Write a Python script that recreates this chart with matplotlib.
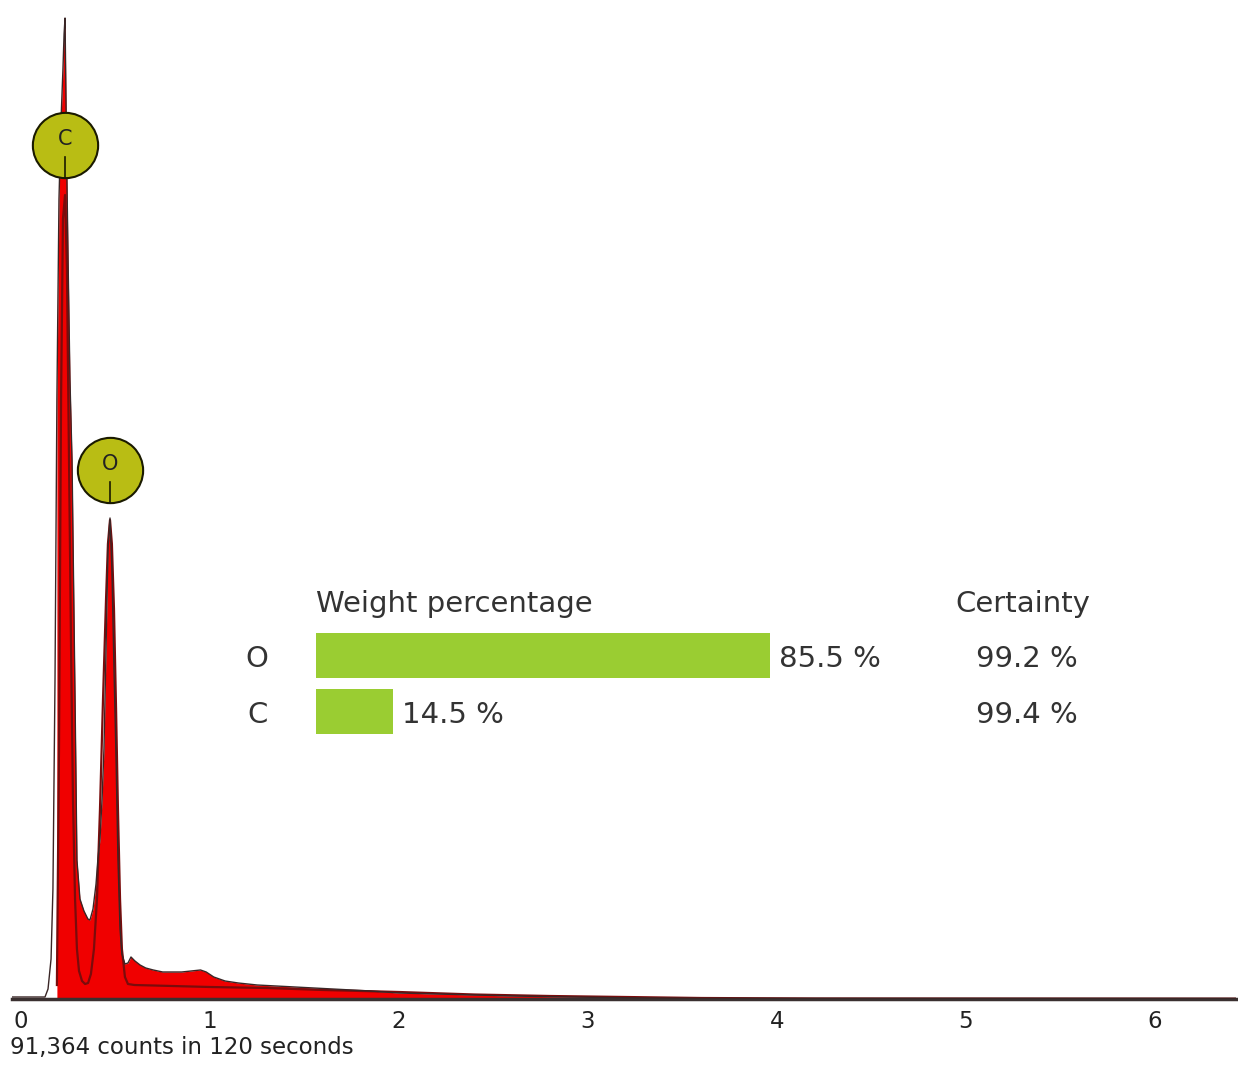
"""EDS spectrum with element markers and a weight-percentage summary."""

import matplotlib
matplotlib.use("Agg")
import matplotlib.pyplot as plt

plt.rcParams["font.family"] = ["DejaVu Sans"]

# Measured spectrum: energy (keV) and intensity (arbitrary counts)
energy = [-0.048, 0.127, 0.143, 0.159, 0.169, 0.180, 0.190, 0.201, 0.212, 0.222,
          0.228, 0.233, 0.238, 0.243, 0.249, 0.259, 0.270, 0.286, 0.296, 0.312,
          0.333, 0.354, 0.365, 0.381, 0.397, 0.407, 0.418, 0.429, 0.439, 0.450,
          0.460, 0.471, 0.481, 0.492, 0.503, 0.513, 0.524, 0.534, 0.550, 0.566,
          0.582, 0.603, 0.63, 0.66, 0.70, 0.75, 0.80, 0.85, 0.90, 0.95,
          0.98, 1.02, 1.08, 1.15, 1.25, 1.35, 1.45, 1.55, 1.65, 1.75,
          1.85, 2.0, 2.2, 2.4, 2.6, 2.9, 3.3, 3.6, 6.45]
counts = [2, 2, 10, 40, 110, 320, 600, 800, 880, 930,
          965, 981, 900, 820, 740, 620, 539, 299, 139, 100,
          88, 80, 79, 90, 115, 140, 160, 200, 250, 350,
          450, 481, 430, 330, 240, 140, 70, 45, 35, 36,
          42, 38, 34, 31, 29, 27, 27, 27, 28, 29,
          27, 22, 18, 16, 14, 13, 12, 11, 10, 9,
          8, 6, 5, 4, 3, 2, 1, 0.5, 0.5]

# Fitted spectrum
fit_energy = [0.190, 0.201, 0.212, 0.222, 0.233, 0.243, 0.254, 0.265, 0.275, 0.286,
              0.296, 0.307, 0.323, 0.339, 0.355, 0.370, 0.386, 0.402, 0.418, 0.434,
              0.450, 0.460, 0.471, 0.481, 0.492, 0.503, 0.513, 0.524, 0.534, 0.550,
              0.566, 0.6, 0.8, 1.0, 1.3, 1.6, 2.0, 2.4, 2.8, 3.2,
              3.6, 4.2, 6.45]
fit_counts = [14, 250, 600, 780, 804, 730, 540, 350, 200, 100,
              50, 28, 18, 15, 16, 25, 50, 100, 190, 300,
              400, 455, 479, 455, 390, 290, 190, 100, 50, 22,
              15, 14, 13, 12, 11, 9, 7, 4.5, 3, 2,
              1, 0.5, 0.3]

# Identified lines
elements = ["C", "O"]
peak_energy = [0.233, 0.471]
fit_peak = [804, 479]

# Quantification table
table_elements = ["O", "C"]
weight_pct = [85.5, 14.5]
certainty_pct = [99.2, 99.4]

energy_ticks = [0, 1, 2, 3, 4, 5, 6]
total_counts = 91364
live_time = 120
fill_start = 0.19

W, H = 1238, 1066
fig = plt.figure(figsize=(W / 100, H / 100), dpi=100)
ax = fig.add_axes([12 / W, 67 / H, 1224 / W, 999 / H])

ax.fill_between(energy, counts, 0, where=[e >= fill_start for e in energy],
                color="#f00000", linewidth=0, zorder=1)
ax.plot(fit_energy, fit_counts, color="#7a0c0c", linewidth=1.6, zorder=2)
ax.plot(energy, counts, color="#3a2626", linewidth=1.0, zorder=3)

# element markers sit above the fitted peak
for el, e, h in zip(elements, peak_energy, fit_peak):
    yc = h + 50
    ax.plot([e], [yc], marker="o", markersize=47, markerfacecolor="#b9bd14",
            markeredgecolor="#1a1a00", markeredgewidth=1.5, zorder=5)
    ax.plot([e, e], [yc - 12, yc - 33], color="#1a1a00", linewidth=1.2, zorder=6)
    ax.text(e, yc + 6, el, ha="center", va="center", fontsize=15,
            color="#222222", zorder=7)

ax.set_xlim(-0.0476, 6.429)
ax.set_ylim(0, 999)
ax.set_xticks(energy_ticks)
ax.set_xticklabels([str(t) for t in energy_ticks])
ax.set_yticks([])
ax.tick_params(axis="x", length=0, pad=8, labelsize=16.5, labelcolor="#222222")
for side in ("top", "left", "right"):
    ax.spines[side].set_visible(False)
ax.spines["bottom"].set_color("#3a3030")
ax.spines["bottom"].set_linewidth(2.5)
ax.patch.set_alpha(0)

fig.text(10 / W, (H - 1054) / H, f"{total_counts:,} counts in {live_time} seconds",
         ha="left", va="baseline", fontsize=16.5, color="#222222")

# weight-percentage table drawn on its own axes, rows 0 and 1
tab = fig.add_axes([230 / W, (H - 767.5) / H, 870 / W, 224 / H])
tab.axis("off")
tab.set_xlim(-16.2, 147.6)
tab.set_ylim(2, -2)
rows = list(range(len(table_elements)))
tab.barh(rows, weight_pct, height=0.8, color="#9acd32", linewidth=0)

txt = dict(fontsize=21, color="#333333", va="baseline")
tab.text(0, -0.78, "Weight percentage", ha="left", **txt)
tab.text(133.0, -0.78, "Certainty", ha="center", **txt)
for r, el, w, c in zip(rows, table_elements, weight_pct, certainty_pct):
    tab.text(-11.1, r + 0.2, el, ha="center", **txt)
    tab.text(w + 1.7, r + 0.2, f"{w} %", ha="left", **txt)
    tab.text(133.9, r + 0.2, f"{c} %", ha="center", **txt)

fig.savefig("out.png", dpi=100, facecolor="white")
